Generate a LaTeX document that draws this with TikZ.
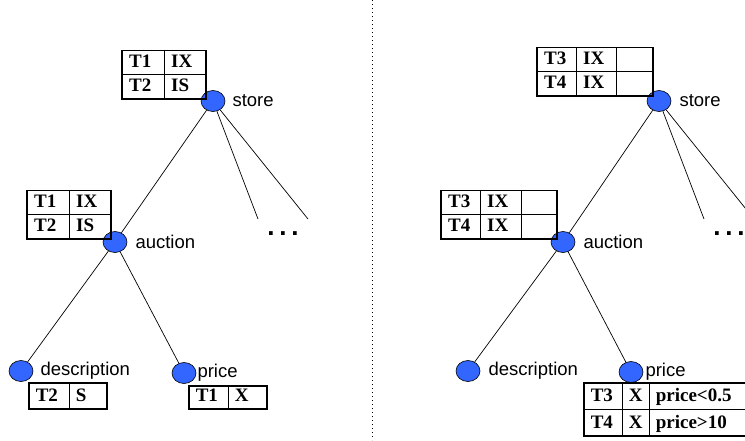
\documentclass[tikz,border=0pt]{standalone}
\usepackage{fontspec}
\setmainfont{Liberation Serif}
\setsansfont{Liberation Sans}
\usetikzlibrary{positioning, shapes.geometric}
\definecolor{nodeblue}{RGB}{51,102,255}
\setlength{\arrayrulewidth}{0.6pt}
\setlength{\tabcolsep}{7pt}
\renewcommand{\arraystretch}{1.15}

\begin{document}
\begin{tikzpicture}[
    x=1pt, y=-1pt,
    elem/.style={draw, ellipse, fill=nodeblue, line width=0.6pt, minimum width=24pt, minimum height=21pt, inner sep=0pt},
    tag/.style={font=\sffamily\fontsize{18.5}{20}\selectfont, inner sep=0pt},
    lock/.style={draw, line width=1.6pt, inner sep=0pt, font=\bfseries\fontsize{19}{21}\selectfont},
    edge/.style={line width=0.7pt},
    more/.style={font=\sffamily\bfseries\fontsize{26}{26}\selectfont, inner sep=0pt}
]
\useasboundingbox (0,0) rectangle (745,440);

% Separator
\coordinate (sep-top) at (372,0);
\coordinate (sep-bot) at (372,440);
\draw[line width=1pt, dash pattern=on 1.2pt off 2.8pt] (sep-top) -- (sep-bot);

% Left tree
\node[elem] (store-l) at (213,101) {};
\node[elem] (auction-l) at (115,242) {};
\node[elem] (desc-l) at (21,371) {};
\node[elem] (price-l) at (184,373) {};
\node[tag, right=7pt of store-l] (store-l-t) {store};
\node[tag, right=8pt of auction-l] (auction-l-t) {auction};
\node[tag, right=7pt of desc-l] (desc-l-t) {description};
\node[tag, right=1pt of price-l] (price-l-t) {price};
\coordinate (kid-l1) at (258,219);
\coordinate (kid-l2) at (308,219);
\node[more] (more-l) at (283,234) {.\kern4.8pt.\kern4.8pt.};

\draw[edge] (store-l) -- (auction-l);
\draw[edge] (store-l) -- (kid-l1);
\draw[edge] (store-l) -- (kid-l2);
\draw[edge] (auction-l) -- (desc-l);
\draw[edge] (auction-l) -- (price-l);

% Left locks
\node[lock, anchor=south east] (lk-store-l) at (207,100)
    {\begin{tabular}{p{28pt}|p{28pt}} T1 & IX \\ \hline T2 & IS \end{tabular}};
\node[lock, anchor=south east] (lk-auction-l) at (112,240)
    {\begin{tabular}{p{28pt}|p{28pt}} T1 & IX \\ \hline T2 & IS \end{tabular}};
\node[lock, anchor=north west] (lk-desc-l) at (28,382)
    {\renewcommand{\arraystretch}{1.25}\begin{tabular}{p{26pt}|p{24pt}} T2 & S \end{tabular}};
\node[lock, anchor=north west] (lk-price-l) at (188,385)
    {\renewcommand{\arraystretch}{1.1}\begin{tabular}{p{25pt}|p{25pt}} T1 & X \end{tabular}};

% Right tree
\node[elem] (store-r) at (659,101) {};
\node[elem] (auction-r) at (563,242) {};
\node[elem] (desc-r) at (468,371) {};
\node[elem] (price-r) at (631,372) {};
\node[tag, right=8pt of store-r] (store-r-t) {store};
\node[tag, right=8pt of auction-r] (auction-r-t) {auction};
\node[tag, right=8pt of desc-r] (desc-r-t) {description};
\node[tag, right=2pt of price-r] (price-r-t) {price};
\coordinate (kid-r1) at (704,219);
\coordinate (kid-r2) at (754,219);
\node[more] (more-r) at (729,234) {.\kern4.8pt.\kern4.8pt.};

\draw[edge] (store-r) -- (auction-r);
\draw[edge] (store-r) -- (kid-r1);
\draw[edge] (store-r) -- (kid-r2);
\draw[edge] (auction-r) -- (desc-r);
\draw[edge] (auction-r) -- (price-r);

% Right locks
\node[lock, anchor=south east] (lk-store-r) at (654,97)
    {\begin{tabular}{p{25pt}|p{26pt}|p{23pt}} T3 & IX & \\ \hline T4 & IX & \end{tabular}};
\node[lock, anchor=south east] (lk-auction-r) at (558,240)
    {\begin{tabular}{p{25pt}|p{27pt}|p{22pt}} T3 & IX & \\ \hline T4 & IX & \end{tabular}};
\node[lock, anchor=north west] (lk-price-r) at (583,382)
    {\renewcommand{\arraystretch}{1.25}\begin{tabular}{p{24pt}|p{13pt}|p{92pt}} T3 & X & price<0.5 \\ \hline T4 & X & price>10 \end{tabular}};

\end{tikzpicture}
\end{document}
